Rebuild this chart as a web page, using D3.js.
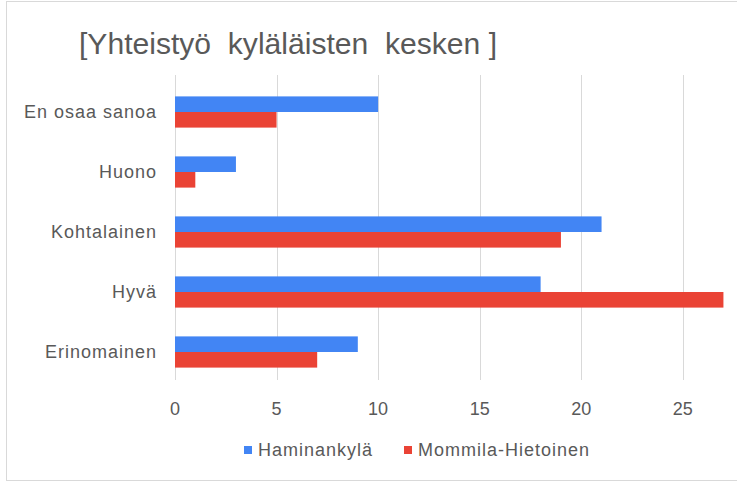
<!DOCTYPE html>
<html>
<head>
<meta charset="utf-8">
<script src="https://cdn.jsdelivr.net/npm/d3@7"></script>
<style>
  body { margin: 0; background: #fff; }
  text { font-family: "Liberation Sans", Arial, sans-serif; }
</style>
</head>
<body>
<div id="chart"></div>
<script>
// Chart data
//=====================================================================
var categories = ["En osaa sanoa", "Huono", "Kohtalainen", "Hyvä", "Erinomainen"];
var seriesNames = ["Haminankylä", "Mommila-Hietoinen"];
var haminankyla = [10, 3, 21, 18, 9];
var mommila = [5, 1, 19, 27, 7];
var xTicks = [0, 5, 10, 15, 20, 25];
var colors = ["#4285f4", "#ea4335"];

var svgWidth = 737;
var svgHeight = 484;

var svg = d3.select("#chart")
    .append("svg")
    .attr("width", svgWidth)
    .attr("height", svgHeight);

// outer border
svg.append("rect")
    .attr("x", 6.5)
    .attr("y", 1.5)
    .attr("width", 740)
    .attr("height", 479)
    .attr("fill", "none")
    .attr("stroke", "#d9d9d9");

// title
svg.append("text")
    .attr("x", 79)
    .attr("y", 54)
    .attr("textLength", 418)
    .attr("lengthAdjust", "spacingAndGlyphs")
    .style("font-size", "30px")
    .style("fill", "#595959")
    .style("white-space", "pre")
    .text("[Yhteistyö  kyläläisten  kesken ]");

// scales
var xScale = d3.scaleLinear()
    .domain([0, 25])
    .range([175, 682.8]);

var yScale = d3.scaleBand()
    .domain(categories)
    .range([82, 382])
    .paddingInner(0.48)
    .paddingOuter(0.24);

var ySub = d3.scaleBand()
    .domain(seriesNames)
    .range([0, yScale.bandwidth()]);

// gridlines
svg.append("g")
    .selectAll("line")
    .data(xTicks)
    .enter()
    .append("line")
    .attr("x1", d => Math.round(xScale(d)) + 0.5)
    .attr("x2", d => Math.round(xScale(d)) + 0.5)
    .attr("y1", 75)
    .attr("y2", 380)
    .attr("stroke", "#d9d9d9");

// bars
var rows = categories.map((c, i) => ({ cat: c, vals: [haminankyla[i], mommila[i]] }));

var groups = svg.append("g")
    .selectAll("g")
    .data(rows)
    .enter()
    .append("g")
    .attr("transform", d => `translate(0, ${yScale(d.cat)})`);

groups.selectAll("rect")
    .data(d => d.vals.map((v, j) => ({ name: seriesNames[j], v: v, j: j })))
    .enter()
    .append("rect")
    .attr("x", xScale(0))
    .attr("y", d => ySub(d.name))
    .attr("width", d => xScale(d.v) - xScale(0))
    .attr("height", ySub.bandwidth())
    .attr("fill", d => colors[d.j]);

// category labels
svg.append("g")
    .selectAll("text")
    .data(categories)
    .enter()
    .append("text")
    .attr("x", 157)
    .attr("y", d => yScale(d) + yScale.bandwidth() / 2)
    .attr("dy", "0.35em")
    .attr("text-anchor", "end")
    .style("font-size", "18px")
    .style("letter-spacing", "1px")
    .style("fill", "#595959")
    .text(d => d);

// x tick labels
svg.append("g")
    .selectAll("text")
    .data(xTicks)
    .enter()
    .append("text")
    .attr("x", d => xScale(d))
    .attr("y", 415)
    .attr("text-anchor", "middle")
    .style("font-size", "18px")
    .style("fill", "#595959")
    .text(d => d);

// legend
var legendX = [244, 404];
var legend = svg.append("g")
    .selectAll("g")
    .data(seriesNames)
    .enter()
    .append("g")
    .attr("transform", (d, i) => `translate(${legendX[i]}, 446)`);

legend.append("rect")
    .attr("width", 8)
    .attr("height", 8)
    .attr("fill", (d, i) => colors[i]);

legend.append("text")
    .attr("x", 14)
    .attr("y", 4)
    .attr("dy", "0.35em")
    .style("font-size", "18px")
    .style("letter-spacing", "1px")
    .style("fill", "#595959")
    .text(d => d);
</script>
</body>
</html>
